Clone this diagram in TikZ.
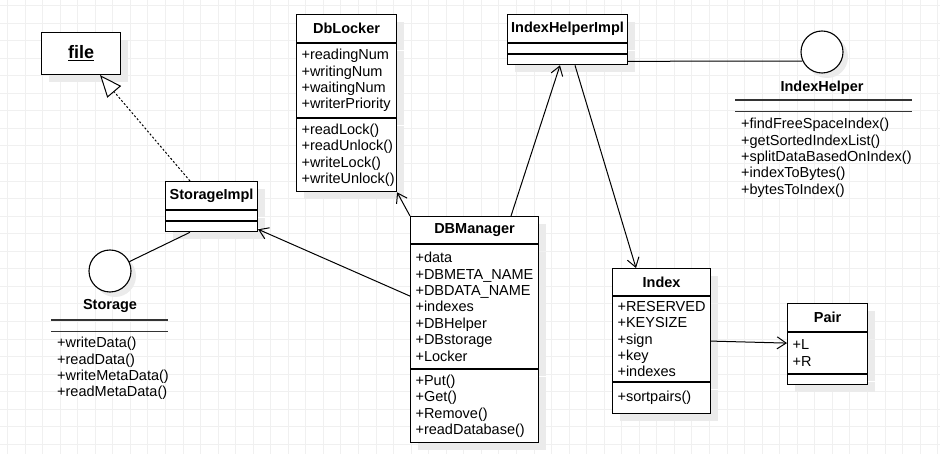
\documentclass[tikz,border=0pt]{standalone}
\usepackage{fontspec}
\setmainfont{Liberation Sans}
\usetikzlibrary{arrows.meta,shadows}
\newcommand{\umlfont}{\fontsize{14.5}{16.4}\selectfont}
\newcommand{\umlbold}{\fontsize{14.5}{16.4}\selectfont\bfseries}

\tikzset{
  umlbox/.style={draw, fill=white, line width=1.1pt, anchor=north west, inner sep=0pt,
    drop shadow={shadow xshift=7pt, shadow yshift=-7pt, fill=black!8, opacity=1}},
  classname/.style={umlbox, font=\umlbold, minimum width=#1, minimum height=28pt},
  members/.style={umlbox, font=\umlfont, align=left, inner xsep=5pt, text width=#1},
  iface/.style={circle, draw, fill=white, line width=1.1pt, minimum size=42pt,
    drop shadow={shadow xshift=5pt, shadow yshift=-5pt, fill=black!8, opacity=1}},
  ifacename/.style={font=\umlbold},
  ifacebar/.style={anchor=north west, minimum height=11pt, inner sep=0pt},
  ifaceops/.style={anchor=north west, font=\umlfont, align=left, inner xsep=6pt, inner ysep=0pt},
  gridline/.style={black!6, line width=0.6pt}
}

\begin{document}
\begin{tikzpicture}[
  x=1pt, y=-1pt,
  link/.style={line width=1pt},
  assoc/.style={line width=1pt, -{Straight Barb[length=9pt,width=12pt]}},
  realize/.style={line width=1pt, dash pattern=on 2pt off 2pt,
    -{Triangle[open,fill=white,length=22pt,width=18pt]}}
]
  \useasboundingbox (0,0) rectangle (940,454);
  \fill[white] (0,0) rectangle (940,454);
  % background grid
  \foreach \gx in {7.3,24.85,...,940} \draw[gridline] (\gx,0) -- (\gx,454);
  \foreach \gy in {5.4,22.95,...,454} \draw[gridline] (0,\gy) -- (940,\gy);

  % file
  \node[umlbox, minimum width=79pt, minimum height=42pt,
    font=\fontsize{18}{20}\selectfont\bfseries] (file) at (41,32) {\underline{file}};

  % StorageImpl
  \node[classname=92pt] (storimpl) at (165,181) {StorageImpl};
  \node[members=82pt, minimum height=10pt] (storimplattr) at (storimpl.south west) {};
  \node[members=82pt, minimum height=10pt] (storimplops) at (storimplattr.south west) {};

  % Storage interface
  \node[iface] (storage) at (110,271) {};
  \node[ifacename] (storagename) at (110,306) {Storage};
  \node[ifacebar, minimum width=117pt] (storagebar) at (51,320) {};
  \draw[line width=1.1pt, black!80] (storagebar.north west) -- (storagebar.north east)
    (storagebar.south west) -- (storagebar.south east);
  \node[ifaceops] (storageops) at (51,337)
    {+writeData()\\+readData()\\+writeMetaData()\\+readMetaData()};

  % DbLocker
  \node[classname=100pt] (dblocker) at (296,14) {DbLocker};
  \node[members=90pt, minimum height=74pt] (dblockerattr) at (dblocker.south west)
    {+readingNum\\+writingNum\\+waitingNum\\+writerPriority};
  \node[members=90pt, minimum height=73pt] (dblockerops) at (dblockerattr.south west)
    {+readLock()\\+readUnlock()\\+writeLock()\\+writeUnlock()};

  % IndexHelperImpl
  \node[classname=120pt] (ihimpl) at (507,14) {IndexHelperImpl};
  \node[members=110pt, minimum height=10pt] (ihimplattr) at (ihimpl.south west) {};
  \node[members=110pt, minimum height=10pt] (ihimplops) at (ihimplattr.south west) {};

  % IndexHelper interface
  \node[iface] (ihelper) at (822,52) {};
  \node[ifacename] (ihelpername) at (822,88) {IndexHelper};
  \node[ifacebar, minimum width=177pt] (ihelperbar) at (735,100) {};
  \draw[line width=1.1pt, black!80] (ihelperbar.north west) -- (ihelperbar.north east)
    (ihelperbar.south west) -- (ihelperbar.south east);
  \node[ifaceops] (ihelperops) at (735,118)
    {+findFreeSpaceIndex()\\+getSortedIndexList()\\+splitDataBasedOnIndex()\\+indexToBytes()\\+bytesToIndex()};

  % DBManager
  \node[classname=128pt, minimum height=27pt] (dbm) at (410,216) {DBManager};
  \node[members=118pt, minimum height=124pt] (dbmattr) at (dbm.south west)
    {+data\\+DBMETA\_NAME\\+DBDATA\_NAME\\+indexes\\+DBHelper\\+DBstorage\\+Locker};
  \node[members=118pt, minimum height=73pt] (dbmops) at (dbmattr.south west)
    {+Put()\\+Get()\\+Remove()\\+readDatabase()};

  % Index
  \node[classname=98pt, minimum height=27pt] (index) at (612,268) {Index};
  \node[members=88pt, minimum height=85pt] (indexattr) at (index.south west)
    {+RESERVED\\+KEYSIZE\\+sign\\+key\\+indexes};
  \node[members=88pt, minimum height=31pt] (indexops) at (indexattr.south west)
    {+sortpairs()};

  % Pair
  \node[classname=80pt] (pair) at (787,303) {Pair};
  \node[members=70pt, minimum height=41pt] (pairattr) at (pair.south west) {+L\\+R};
  \node[members=70pt, minimum height=10pt] (pairops) at (pairattr.south west) {};

  % relations
  \draw[realize] ([xshift=25pt]storimpl.north west) -- ([xshift=59pt]file.south west);
  \draw[link] (storage) -- ([xshift=25pt]storimplops.south west);
  \draw[assoc] ([yshift=-52pt]dbmattr.north west) -- ([yshift=3pt]storimplops.south east);
  \draw[assoc] (dbm.north west) -- (dblockerops.south east);
  \draw[assoc] ([xshift=101pt]dbm.north west) -- ([xshift=53pt]ihimplops.south west);
  \draw[assoc] ([xshift=68pt]ihimplops.south west) -- ([xshift=24pt]index.north west);
  \draw[link] ([yshift=4pt]ihimplops.south east) -- (ihelper.205);
  \draw[assoc] ([yshift=-45pt]indexattr.north east) -- ([yshift=-11pt]pairattr.north west);
\end{tikzpicture}
\end{document}
